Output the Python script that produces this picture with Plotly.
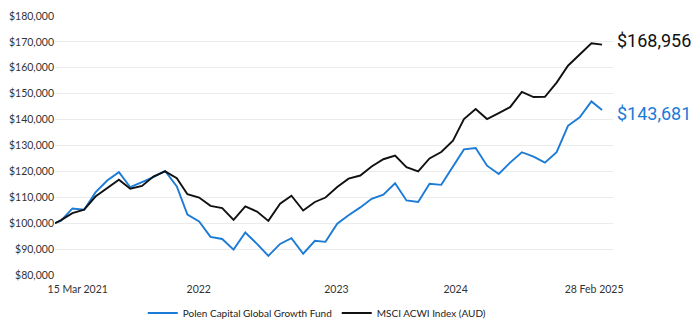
import plotly.graph_objects as go
import pandas as pd

dates = ["2021-03-15"] + [d.strftime("%Y-%m-%d") for d in pd.date_range("2021-03-31", "2025-02-28", freq="ME")]

fund_values = [100000, 101000, 105700, 105200, 111900, 116500, 119700, 113900, 115900, 117800,
               120200, 114200, 103300, 100700, 94700, 93900, 89800, 96400, 92000, 87400,
               92000, 94200, 88200, 93200, 92800, 99800, 103100, 106100, 109400, 111000,
               115400, 108800, 108200, 115200, 114800, 121700, 128500, 129000, 122200, 119000,
               123400, 127400, 125700, 123400, 127400, 137600, 140900, 147000, 143681]

index_values = [100000, 101200, 103900, 105200, 110300, 113600, 116800, 113300, 114400, 118000,
                120000, 117400, 111200, 109900, 106700, 105800, 101300, 106500, 104500, 100900,
                107500, 110600, 104900, 108200, 109900, 114000, 117200, 118400, 121900, 124700,
                126100, 121600, 120000, 125000, 127500, 131900, 140200, 144100, 140200, 142500,
                144800, 150700, 148700, 148800, 154300, 160800, 165200, 169500, 168956]

series_names = ["Polen Capital Global Growth Fund", "MSCI ACWI Index (AUD)"]
series_colors = ["#1b7bd6", "#111111"]

tick_dates = ["2021-05-14", "2022-03-30", "2023-03-29", "2024-02-07", "2025-02-07"]
tick_labels = ["15 Mar 2021", "2022", "2023", "2024", "28 Feb 2025"]

y_ticks = list(range(80000, 180001, 10000))
y_tick_labels = [f"${v:,}" for v in y_ticks]

fig = go.Figure()
for name, vals, col in zip(series_names, [fund_values, index_values], series_colors):
    fig.add_trace(go.Scatter(x=dates, y=vals, mode="lines", name=name,
                             line=dict(color=col, width=1.9)))

for vals, col, shift in zip([fund_values, index_values], series_colors, [-3, 4]):
    fig.add_annotation(x=1.0, xref="paper", xanchor="right", xshift=80,
                       y=vals[-1], yref="y", yshift=shift,
                       text=f"${vals[-1]:,}", showarrow=False,
                       font=dict(family="Roboto", size=18, color=col))

fig.update_layout(
    width=694, height=320,
    margin=dict(l=55, r=81, t=16, b=45, autoexpand=False),
    paper_bgcolor="white", plot_bgcolor="white",
    font=dict(family="Lato", size=10, color="#333333"),
    showlegend=True,
    legend=dict(orientation="h", x=0.47, xanchor="center", y=-0.147, yanchor="middle",
                font=dict(size=10, color="#222222"), itemwidth=30),
    xaxis=dict(type="date", range=["2021-03-15", "2025-03-29"], tickmode="array",
               tickvals=tick_dates, ticktext=tick_labels, showgrid=False, zeroline=False,
               showline=False, ticks="outside", ticklen=4, tickcolor="rgba(0,0,0,0)",
               tickangle=0, automargin=False,
               tickfont=dict(size=10.5, color="#333333")),
    yaxis=dict(range=[80000, 180000], tickmode="array", tickvals=y_ticks,
               ticktext=y_tick_labels, showgrid=True, gridcolor="#ebebeb",
               gridwidth=1, zeroline=False, showline=False, ticks="", automargin=False,
               tickfont=dict(size=10.5, color="#333333")),
)

fig.write_html("out.html")
